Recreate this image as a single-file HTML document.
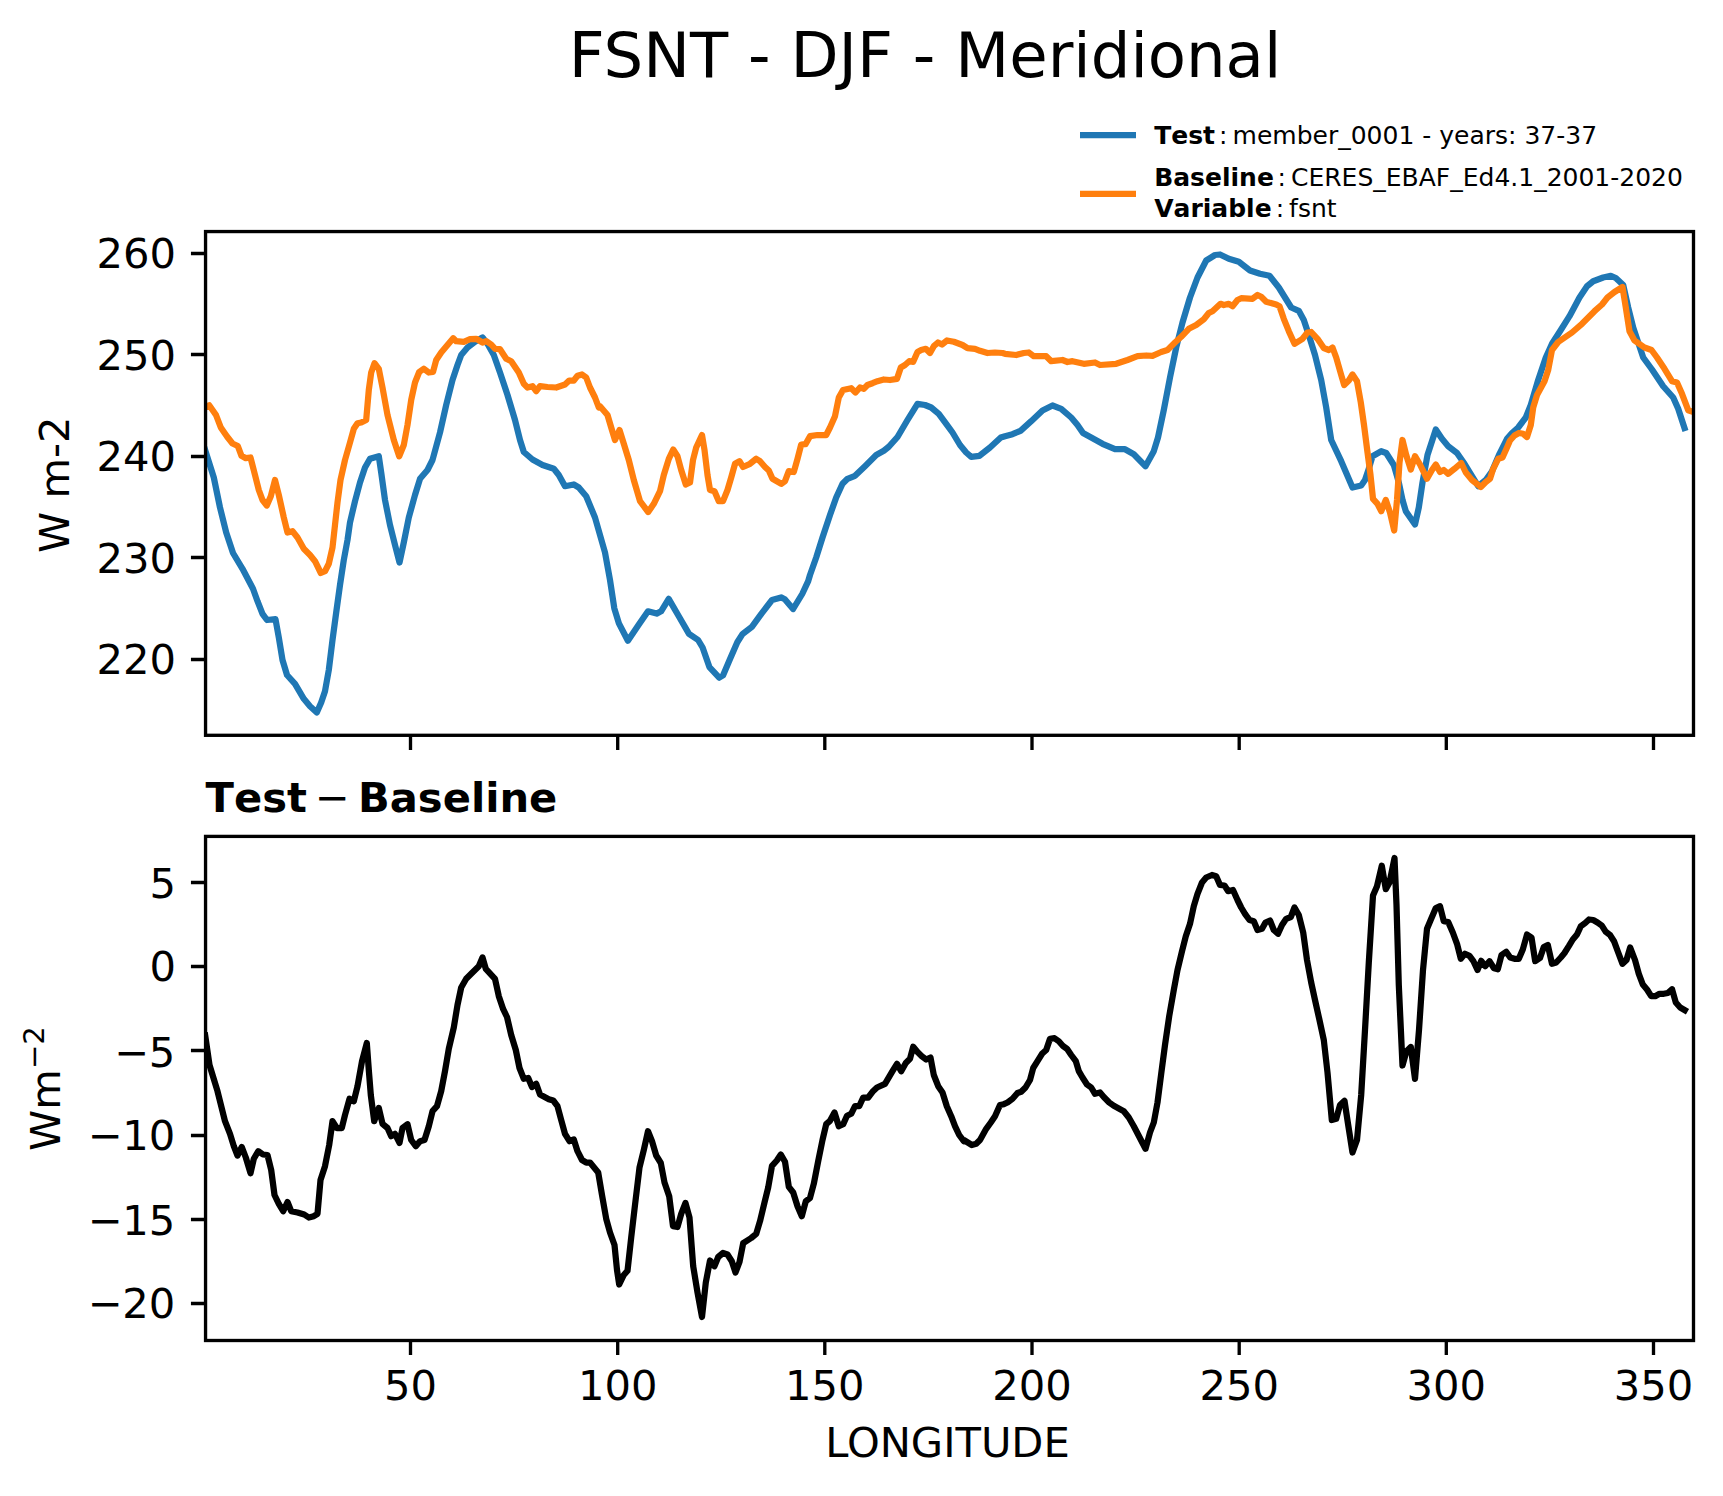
<!DOCTYPE html>
<html lang="en"><head><meta charset="utf-8"><title>FSNT - DJF - Meridional</title>
<style>
html,body{margin:0;padding:0;background:#fff;}
body{width:1723px;height:1496px;overflow:hidden;}
svg{display:block;}
text{font-family:"DejaVu Sans","Liberation Sans",sans-serif;fill:#000;}
.b{font-weight:bold;font-kerning:none;}
</style></head><body>
<svg width="1723" height="1496" viewBox="0 0 1723 1496">
<rect width="1723" height="1496" fill="#ffffff"/>
<defs>
<clipPath id="c1"><rect x="205.55" y="231.55" width="1487.95" height="503.75"/></clipPath>
<clipPath id="c2"><rect x="205.55" y="836.4" width="1487.95" height="504.10"/></clipPath>
</defs>
<text x="925" y="76.8" font-size="62.5" text-anchor="middle">FSNT - DJF - Meridional</text>
<g fill="none" stroke-width="6.25"><path d="M1080,135 H1136" stroke="#1f77b4"/><path d="M1080,193.9 H1136" stroke="#ff7f0e"/></g>
<g font-size="25">
<text y="143.7"><tspan x="1154.2" class="b">Test</tspan><tspan x="1219.1">:</tspan><tspan x="1232.6">member_0001 - years: 37-37</tspan></text>
<text y="185.6"><tspan x="1154.2" class="b">Baseline</tspan><tspan x="1277.6">:</tspan><tspan x="1291.0">CERES_EBAF_Ed4.1_2001-2020</tspan></text>
<text y="217.0"><tspan x="1154.2" class="b">Variable</tspan><tspan x="1275.8">:</tspan><tspan x="1289.1">fsnt</tspan></text>
</g>
<g clip-path="url(#c1)" fill="none" stroke-width="6.25" stroke-linejoin="round" stroke-linecap="square">
<path d="M202.5,441.8 L205.5,451.2 L213.8,477.5 L220.0,507.5 L226.2,532.5 L233.0,553.0 L242.5,568.8 L253.0,588.8 L257.5,601.2 L262.5,613.8 L267.0,620.0 L275.5,619.2 L278.8,637.5 L282.5,660.0 L287.0,675.0 L295.0,683.8 L303.8,698.8 L310.0,706.2 L316.8,712.5 L321.2,702.5 L325.0,691.2 L328.8,670.0 L332.5,640.0 L336.2,612.5 L340.0,585.0 L343.8,560.0 L347.5,540.0 L350.0,522.5 L355.0,501.2 L360.0,482.5 L365.0,467.5 L370.0,458.8 L378.8,456.2 L381.2,472.5 L385.0,500.0 L390.0,525.0 L395.0,545.0 L399.5,562.5 L403.8,542.5 L408.8,517.5 L415.0,495.0 L420.0,478.8 L427.5,470.0 L432.5,460.0 L440.0,432.5 L446.2,405.0 L452.5,380.0 L457.5,365.0 L461.2,355.0 L467.5,347.5 L475.0,341.8 L482.5,337.5 L487.5,343.8 L493.8,355.0 L500.0,372.5 L507.5,395.0 L515.0,420.0 L520.0,440.0 L523.8,452.0 L532.5,459.5 L542.5,465.0 L553.8,468.8 L558.8,475.0 L565.0,486.2 L573.8,484.5 L578.8,487.5 L586.2,496.2 L595.0,517.5 L605.0,552.5 L610.0,580.0 L614.3,608.3 L618.9,623.4 L627.9,640.7 L638.5,624.9 L648.0,611.3 L656.6,613.6 L661.1,611.3 L668.7,598.9 L678.5,615.8 L689.0,633.9 L698.1,640.0 L702.6,647.5 L709.4,667.1 L719.2,677.7 L723.0,675.4 L729.8,659.6 L737.3,642.2 L742.6,633.9 L751.7,627.1 L761.5,613.6 L772.0,600.0 L781.1,597.4 L784.8,599.2 L793.1,609.0 L802.2,594.0 L808.2,581.1 L810.0,575.0 L816.2,557.5 L822.5,537.5 L830.0,515.0 L836.2,497.5 L842.5,483.8 L847.5,478.8 L855.0,475.8 L865.0,466.2 L876.2,455.0 L883.8,450.8 L888.8,446.8 L897.5,437.0 L907.5,420.0 L917.5,403.8 L925.0,405.0 L931.2,407.5 L938.8,413.8 L946.2,423.8 L952.5,432.5 L960.0,445.0 L966.2,452.5 L971.2,456.8 L979.5,455.8 L990.0,447.5 L1000.8,437.5 L1005.0,436.2 L1012.5,434.2 L1020.5,430.8 L1031.2,421.2 L1042.5,410.5 L1052.5,405.5 L1061.2,408.8 L1071.2,417.5 L1077.5,425.0 L1083.0,433.0 L1091.2,437.5 L1102.5,443.8 L1115.0,449.2 L1125.0,449.2 L1133.8,454.2 L1145.5,466.2 L1153.8,451.2 L1158.0,437.5 L1163.8,410.0 L1170.0,377.5 L1176.2,347.5 L1182.5,322.5 L1190.0,297.5 L1197.5,277.5 L1206.2,260.5 L1215.0,255.0 L1220.0,254.5 L1228.8,258.8 L1238.8,261.8 L1250.0,270.5 L1260.0,273.8 L1269.5,275.8 L1278.8,287.5 L1285.0,297.5 L1291.2,307.5 L1298.8,310.8 L1303.8,320.0 L1308.8,335.0 L1315.0,355.0 L1321.2,380.0 L1326.2,407.5 L1331.2,440.0 L1341.2,461.2 L1352.5,487.5 L1361.2,485.5 L1365.0,480.0 L1368.8,468.8 L1372.5,456.2 L1381.2,451.2 L1386.2,453.0 L1393.8,465.0 L1398.8,482.5 L1402.5,500.0 L1405.8,511.2 L1415.0,524.5 L1418.8,507.5 L1422.5,482.5 L1427.5,455.0 L1435.8,429.5 L1442.0,438.8 L1448.2,446.2 L1457.0,453.0 L1464.5,463.8 L1472.0,476.2 L1478.2,486.2 L1485.8,480.0 L1492.0,471.2 L1499.5,453.8 L1507.0,438.8 L1512.0,433.0 L1518.2,427.5 L1525.8,417.5 L1530.8,405.0 L1538.2,380.0 L1545.8,357.5 L1552.0,343.8 L1560.8,330.0 L1569.5,316.2 L1579.5,297.5 L1587.0,286.2 L1593.2,281.2 L1603.2,277.5 L1610.8,275.8 L1615.8,278.0 L1623.2,285.0 L1628.2,307.5 L1633.2,327.5 L1638.2,342.5 L1643.2,357.5 L1652.0,369.5 L1663.2,386.2 L1673.2,397.5 L1678.2,408.8 L1684.5,428.0" stroke="#1f77b4"/>
<path d="M204.8,407.5 L209.2,405.2 L216.0,415.0 L220.8,427.5 L227.0,436.5 L232.5,443.5 L237.8,446.0 L241.5,455.8 L245.8,458.2 L250.5,457.5 L255.0,475.0 L258.8,490.0 L262.5,500.0 L266.8,505.5 L270.8,496.2 L275.0,480.0 L278.8,495.0 L283.8,517.5 L287.5,532.5 L292.5,531.2 L297.5,537.5 L303.8,548.8 L310.0,555.0 L315.0,561.2 L320.8,573.0 L325.0,571.2 L328.8,563.8 L332.5,547.5 L335.0,525.0 L337.5,502.5 L340.5,480.0 L345.0,460.0 L350.0,442.5 L353.8,428.8 L357.5,423.2 L361.2,422.5 L366.2,420.0 L368.8,390.0 L371.2,372.5 L374.5,363.2 L378.8,368.8 L382.5,387.5 L387.5,415.0 L393.8,440.0 L399.2,456.2 L403.8,445.0 L407.5,425.0 L411.2,400.0 L415.0,382.5 L419.2,372.0 L423.8,368.8 L428.8,372.5 L433.0,372.0 L436.2,360.0 L441.2,352.5 L447.5,345.0 L453.2,338.2 L456.2,341.2 L463.8,341.8 L470.0,339.2 L476.2,338.8 L482.5,342.5 L486.2,341.2 L491.2,344.5 L495.0,348.8 L500.0,349.2 L506.2,358.8 L511.2,361.2 L518.8,372.5 L523.8,383.8 L527.5,387.5 L532.5,386.2 L536.2,391.2 L540.0,386.2 L547.5,387.0 L556.2,387.5 L565.0,384.5 L569.2,380.5 L573.8,380.5 L577.5,375.8 L582.0,374.5 L586.2,377.5 L590.0,387.5 L595.0,397.5 L598.8,407.5 L600.0,406.2 L607.5,415.0 L611.2,427.5 L615.0,440.0 L619.5,430.0 L623.8,443.8 L628.8,460.0 L633.8,480.0 L640.0,501.2 L648.2,512.0 L653.8,503.8 L660.0,491.2 L663.8,475.0 L668.8,458.8 L673.2,449.5 L677.5,456.2 L681.2,470.0 L685.8,484.5 L690.0,482.5 L693.0,460.0 L696.2,447.5 L702.0,435.0 L704.5,450.0 L707.5,475.0 L710.0,490.0 L714.5,491.2 L718.8,501.2 L723.0,501.2 L727.5,490.0 L731.2,477.5 L735.0,463.8 L739.5,461.2 L743.0,467.0 L750.0,463.8 L756.2,458.8 L760.0,461.2 L765.0,467.0 L768.8,470.5 L772.5,478.8 L781.2,483.8 L785.0,481.2 L788.8,471.2 L793.8,472.0 L797.5,458.8 L801.2,444.5 L805.5,444.2 L810.0,436.2 L817.5,435.0 L826.2,435.0 L830.0,427.5 L835.0,416.2 L838.8,397.5 L843.0,390.0 L851.2,388.2 L855.5,392.5 L860.0,387.5 L863.8,388.8 L867.5,385.0 L872.5,383.2 L877.5,381.2 L883.8,379.5 L890.0,380.0 L897.0,378.8 L900.8,367.5 L905.0,365.0 L909.2,361.2 L913.2,361.8 L917.5,352.0 L921.2,350.0 L925.8,348.8 L930.0,353.0 L933.8,346.2 L938.0,342.5 L942.0,344.5 L947.0,340.5 L953.8,341.8 L962.5,345.0 L967.5,348.2 L975.0,348.8 L980.0,350.8 L987.5,353.0 L995.0,352.5 L1002.5,353.0 L1005.0,353.8 L1016.2,355.0 L1023.8,353.0 L1028.8,352.5 L1033.8,356.2 L1046.2,356.2 L1051.2,361.2 L1062.5,360.0 L1067.5,362.0 L1072.5,361.2 L1083.8,363.8 L1095.0,362.5 L1100.0,365.0 L1116.2,363.8 L1127.5,360.0 L1137.5,356.2 L1146.2,355.5 L1152.5,355.8 L1161.2,352.0 L1167.5,350.0 L1175.0,342.5 L1181.2,336.8 L1188.8,328.8 L1196.2,325.0 L1203.8,319.2 L1208.8,313.0 L1212.5,311.2 L1220.5,303.8 L1223.8,305.0 L1228.8,303.8 L1232.5,306.2 L1237.5,300.0 L1241.2,298.2 L1252.5,298.8 L1257.5,295.0 L1261.2,296.8 L1266.2,301.8 L1276.2,304.5 L1279.5,306.2 L1283.8,318.8 L1288.8,331.2 L1294.5,343.8 L1302.5,338.8 L1307.5,332.5 L1311.2,332.0 L1317.5,338.8 L1323.8,348.0 L1328.8,350.0 L1332.5,347.5 L1336.2,357.5 L1341.2,375.0 L1344.2,385.0 L1348.8,380.5 L1352.5,374.5 L1357.0,381.2 L1360.8,402.5 L1364.0,425.0 L1367.2,450.0 L1370.5,475.0 L1373.0,498.8 L1377.5,503.8 L1381.2,511.2 L1385.8,500.0 L1390.0,512.5 L1394.2,530.5 L1397.0,500.0 L1399.5,462.5 L1402.5,440.0 L1406.2,455.0 L1410.8,469.5 L1415.0,456.2 L1420.0,464.5 L1427.0,478.8 L1432.0,470.0 L1435.8,464.5 L1440.0,472.0 L1443.8,470.0 L1448.2,473.8 L1454.5,468.8 L1461.2,463.0 L1465.8,472.5 L1472.0,480.0 L1480.8,487.0 L1485.8,482.0 L1490.0,478.8 L1493.2,468.8 L1498.2,458.8 L1502.5,457.5 L1507.0,447.5 L1510.0,440.5 L1514.5,435.5 L1519.0,433.0 L1523.2,433.8 L1527.0,437.0 L1530.8,425.0 L1533.2,407.5 L1537.0,395.0 L1544.5,381.2 L1548.2,370.0 L1552.0,350.0 L1558.2,342.0 L1572.0,332.5 L1582.0,323.8 L1594.5,311.2 L1602.0,304.5 L1607.5,297.5 L1614.5,292.0 L1622.5,287.0 L1625.8,307.5 L1629.5,331.2 L1634.5,340.5 L1644.5,347.5 L1651.5,350.0 L1657.0,357.5 L1664.5,368.8 L1672.0,381.2 L1677.0,382.5 L1682.0,393.8 L1688.2,410.2 L1692.8,411.8" stroke="#ff7f0e"/></g>
<g clip-path="url(#c2)" fill="none" stroke-width="6.25" stroke-linejoin="round" stroke-linecap="square">
<path d="M205.2,1035.5 L209.5,1065.0 L217.5,1091.2 L225.0,1121.2 L230.0,1133.8 L233.8,1146.2 L237.5,1155.5 L241.8,1147.0 L245.8,1157.5 L250.5,1173.2 L253.8,1158.8 L258.2,1151.2 L263.0,1154.5 L267.5,1155.0 L271.2,1170.0 L274.5,1195.0 L278.8,1203.8 L283.2,1211.2 L287.5,1202.0 L291.2,1211.2 L297.5,1212.5 L304.2,1214.5 L308.8,1217.5 L313.8,1216.2 L317.5,1213.8 L320.5,1180.0 L325.0,1166.2 L329.2,1145.0 L332.5,1121.2 L336.8,1128.0 L341.8,1128.0 L345.0,1115.0 L349.5,1098.8 L353.8,1101.2 L357.5,1086.2 L362.0,1061.2 L366.8,1043.0 L368.8,1070.0 L370.8,1095.0 L374.2,1121.2 L378.8,1108.0 L382.5,1123.8 L387.5,1128.0 L391.2,1136.2 L395.0,1133.8 L399.5,1143.0 L402.5,1128.0 L407.5,1124.2 L411.2,1140.0 L415.8,1146.2 L420.0,1141.2 L424.5,1140.0 L428.8,1126.2 L432.5,1111.2 L437.0,1106.2 L441.2,1091.2 L445.0,1071.2 L448.8,1048.8 L453.8,1027.5 L457.5,1005.0 L461.2,987.5 L466.2,978.8 L471.2,973.8 L478.8,966.2 L482.5,957.5 L485.8,968.8 L495.0,978.8 L498.8,996.2 L503.2,1009.2 L507.0,1017.0 L511.2,1035.0 L515.8,1050.0 L519.5,1068.0 L523.8,1078.8 L528.2,1078.0 L532.0,1087.0 L536.2,1083.8 L540.0,1094.5 L548.8,1099.2 L553.2,1100.5 L557.5,1106.2 L561.2,1120.0 L565.0,1133.8 L569.5,1141.2 L573.8,1139.5 L577.5,1151.2 L582.0,1160.0 L586.2,1162.5 L590.0,1162.5 L598.2,1172.5 L602.0,1195.0 L606.2,1218.8 L610.0,1232.5 L614.5,1245.0 L617.0,1270.0 L619.2,1284.5 L623.8,1275.0 L627.5,1270.8 L631.2,1237.5 L635.0,1205.0 L639.5,1167.5 L643.8,1150.0 L648.0,1131.2 L652.0,1141.2 L656.2,1155.5 L660.8,1163.0 L664.5,1182.5 L669.2,1196.2 L673.0,1226.2 L677.5,1227.0 L681.2,1213.8 L685.5,1203.0 L689.5,1217.5 L693.2,1266.2 L697.5,1292.5 L702.0,1317.0 L705.8,1282.5 L710.0,1260.5 L714.5,1266.2 L718.2,1257.0 L723.0,1253.0 L727.5,1254.5 L731.8,1261.2 L735.5,1272.5 L739.5,1262.0 L743.2,1243.2 L751.2,1238.0 L756.2,1233.8 L760.0,1221.2 L764.5,1202.5 L768.2,1187.5 L772.0,1165.8 L776.8,1160.5 L780.8,1154.5 L785.0,1161.8 L788.8,1186.8 L793.2,1192.5 L797.5,1206.2 L801.8,1216.2 L805.8,1201.2 L810.0,1198.0 L813.8,1183.8 L818.2,1161.2 L822.5,1140.0 L826.2,1124.2 L830.0,1120.8 L834.5,1112.5 L838.8,1126.2 L843.2,1124.2 L847.0,1115.8 L851.2,1113.8 L855.0,1106.2 L859.2,1106.2 L863.2,1097.5 L868.2,1097.5 L872.5,1091.8 L877.0,1087.5 L885.0,1083.8 L892.5,1071.2 L897.0,1063.8 L901.2,1071.2 L905.8,1063.0 L910.0,1058.8 L913.2,1046.8 L917.5,1052.0 L921.8,1056.2 L926.2,1059.5 L930.5,1057.5 L933.8,1075.0 L938.2,1086.2 L942.5,1092.5 L946.8,1106.2 L951.2,1116.2 L955.0,1126.2 L959.2,1135.0 L963.8,1141.2 L963.8,1140.0 L971.8,1145.0 L976.2,1143.8 L980.0,1140.0 L986.2,1128.8 L990.8,1122.5 L995.0,1116.2 L1000.0,1105.0 L1003.8,1104.2 L1007.5,1102.5 L1012.5,1098.8 L1017.5,1093.0 L1021.2,1091.8 L1025.5,1087.5 L1030.0,1080.0 L1033.2,1068.0 L1037.5,1061.2 L1042.0,1053.8 L1046.2,1050.0 L1050.0,1038.8 L1054.5,1038.2 L1058.8,1041.2 L1063.2,1046.2 L1067.0,1048.8 L1071.2,1055.0 L1075.8,1061.2 L1078.8,1071.2 L1082.5,1077.5 L1087.0,1084.5 L1091.2,1087.5 L1095.0,1093.8 L1100.0,1092.5 L1103.8,1097.0 L1109.2,1102.5 L1113.8,1105.8 L1123.8,1111.2 L1128.8,1117.5 L1133.8,1126.2 L1145.5,1148.8 L1150.0,1132.5 L1153.8,1122.5 L1157.5,1102.5 L1161.2,1073.8 L1165.0,1045.0 L1169.2,1016.2 L1173.8,990.0 L1177.5,970.0 L1182.0,951.2 L1185.8,936.2 L1190.0,923.8 L1193.8,906.2 L1197.5,893.8 L1202.0,882.5 L1206.2,877.5 L1212.0,875.0 L1216.2,876.2 L1220.0,885.0 L1224.5,885.5 L1228.2,891.2 L1233.0,890.0 L1237.5,900.0 L1241.2,907.5 L1245.0,913.8 L1249.5,920.0 L1253.8,921.2 L1257.5,930.0 L1262.0,928.8 L1265.5,922.5 L1270.0,920.5 L1273.8,930.0 L1278.0,933.8 L1282.0,925.0 L1286.2,918.8 L1290.8,917.0 L1294.5,907.5 L1298.8,915.0 L1303.2,932.5 L1307.0,960.0 L1311.2,982.5 L1315.0,1000.0 L1319.2,1018.8 L1323.8,1040.0 L1327.5,1072.5 L1331.8,1120.0 L1336.2,1118.8 L1340.0,1105.0 L1344.5,1100.8 L1348.2,1125.0 L1352.5,1152.5 L1357.0,1140.0 L1361.2,1095.0 L1365.0,1030.0 L1368.8,962.5 L1373.0,895.5 L1377.0,886.2 L1381.8,865.8 L1385.8,889.2 L1389.5,882.5 L1394.5,858.0 L1396.5,905.0 L1398.8,985.0 L1402.5,1065.5 L1406.5,1051.2 L1410.8,1047.0 L1415.0,1078.8 L1419.0,1030.0 L1423.0,970.0 L1427.0,928.8 L1431.2,918.8 L1435.8,908.0 L1440.0,906.2 L1443.8,921.2 L1448.2,922.0 L1452.8,932.5 L1457.0,943.8 L1460.8,958.8 L1465.0,953.8 L1469.5,955.8 L1473.2,960.8 L1477.5,970.0 L1481.2,960.8 L1485.2,966.2 L1489.5,961.2 L1494.0,968.2 L1497.8,969.2 L1501.5,955.0 L1506.2,951.8 L1510.2,957.5 L1514.5,958.8 L1518.8,958.8 L1522.8,949.5 L1527.0,934.5 L1531.5,937.5 L1535.2,961.2 L1540.0,958.0 L1543.8,947.0 L1547.8,945.0 L1552.0,963.8 L1556.2,962.5 L1560.8,957.5 L1564.5,953.0 L1568.8,946.2 L1572.8,939.5 L1577.0,934.5 L1580.8,926.2 L1585.2,923.0 L1589.0,919.5 L1593.2,920.0 L1597.5,922.5 L1602.0,925.8 L1605.8,931.8 L1610.0,935.0 L1614.0,941.2 L1618.2,952.5 L1622.5,963.8 L1626.5,960.0 L1630.2,947.5 L1635.0,960.0 L1638.8,973.8 L1642.8,984.5 L1647.0,989.5 L1651.2,996.2 L1655.2,996.2 L1659.5,993.8 L1663.8,993.8 L1667.8,993.0 L1672.0,989.2 L1675.8,1002.5 L1680.2,1007.5 L1684.8,1010.2" stroke="#000"/></g>
<g fill="none" stroke="#000" stroke-width="3.33" stroke-linejoin="miter">
<rect x="205.55" y="231.55" width="1487.95" height="503.75"/>
<rect x="205.55" y="836.4" width="1487.95" height="504.10"/>
<path d="M410.5,735.3 v14.6 M410.5,1340.5 v14.6 M617.7,735.3 v14.6 M617.7,1340.5 v14.6 M824.8,735.3 v14.6 M824.8,1340.5 v14.6 M1032.0,735.3 v14.6 M1032.0,1340.5 v14.6 M1239.2,735.3 v14.6 M1239.2,1340.5 v14.6 M1446.3,735.3 v14.6 M1446.3,1340.5 v14.6 M1653.5,735.3 v14.6 M1653.5,1340.5 v14.6 M205.55,253.5 h-14.6 M205.55,354.5 h-14.6 M205.55,456.5 h-14.6 M205.55,557.5 h-14.6 M205.55,659.5 h-14.6 M205.55,882.5 h-14.6 M205.55,966.5 h-14.6 M205.55,1050.5 h-14.6 M205.55,1135.5 h-14.6 M205.55,1219.5 h-14.6 M205.55,1303.5 h-14.6"/></g>
<g font-size="41.67" text-anchor="end">
<text x="176" y="268">260</text>
<text x="176" y="370">250</text>
<text x="176" y="471">240</text>
<text x="176" y="573">230</text>
<text x="176" y="674">220</text>
<text x="176" y="898">5</text>
<text x="176" y="981">0</text>
<text x="175.2" y="1067">−<tspan dx="-0.8">5</tspan></text>
<text x="175.2" y="1150">−<tspan dx="-0.8">10</tspan></text>
<text x="175.2" y="1235">−<tspan dx="-0.8">15</tspan></text>
<text x="175.2" y="1318">−<tspan dx="-0.8">20</tspan></text>
</g>
<g font-size="41.67" text-anchor="middle">
<text x="410.5" y="1400">50</text>
<text x="617.7" y="1400">100</text>
<text x="824.8" y="1400">150</text>
<text x="1032.0" y="1400">200</text>
<text x="1239.2" y="1400">250</text>
<text x="1446.3" y="1400">300</text>
<text x="1653.5" y="1400">350</text>
<text x="947.5" y="1457.3">LONGITUDE</text>
</g>
<text font-size="41.67" text-anchor="middle" transform="translate(69.1,484.7) rotate(-90)">W m-2</text>
<text font-size="41.67" transform="translate(59.9,1150.9) rotate(-90)">Wm<tspan font-size="29.17" dy="-15.9">−2</tspan></text>
<text y="812.2" font-size="41.67"><tspan x="205.6" class="b">Test</tspan><tspan x="314.9">−</tspan><tspan x="358" class="b">Baseline</tspan></text>
</svg>
</body></html>
